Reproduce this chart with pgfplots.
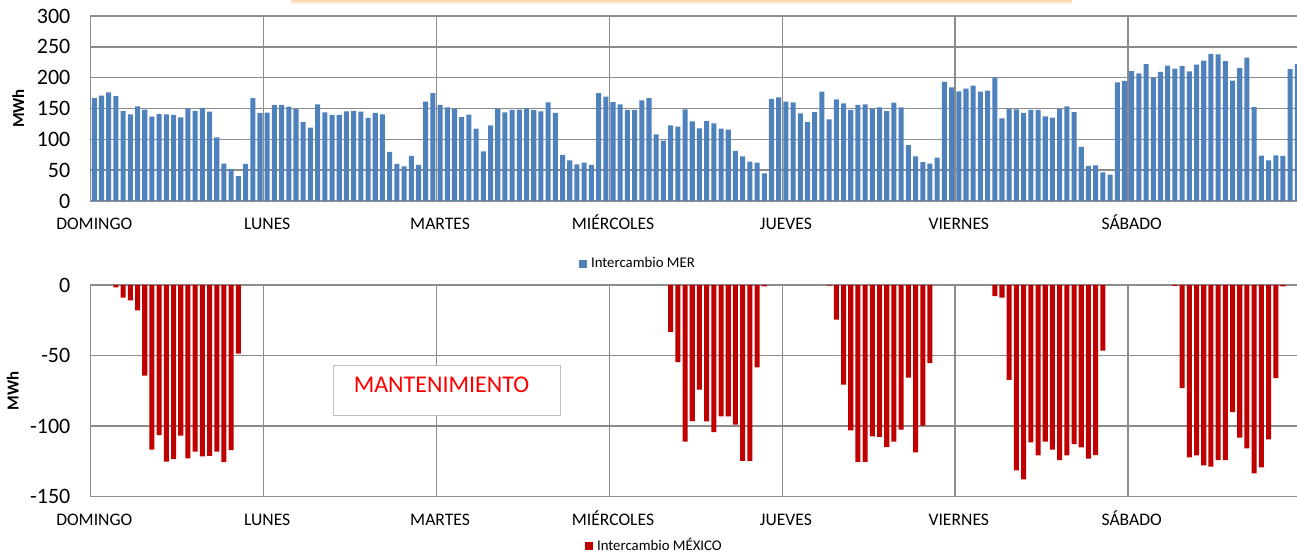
\documentclass[border=0pt]{standalone}
\usepackage{pgfplots}
\pgfplotsset{compat=1.18}
\usepackage{pgfplotstable}
\usepackage{fontspec}
\setmainfont{Carlito}
\definecolor{mer}{HTML}{4F81BD}
\definecolor{mex}{HTML}{C00000}
\definecolor{gridc}{HTML}{8C8C8C}
\definecolor{boxc}{HTML}{BFBFBF}
\definecolor{orline}{HTML}{F9DDB0}
\definecolor{orshadow}{HTML}{FDF1DE}

% Intercambio MER, one value per hour (7 days x 24 h)
\pgfplotstableread{
v
167
171
176
170
146
140.5
153.5
148
137
141
140.5
139.5
135.7
150
146
151
145
103
60.5
52
40.5
60
167
142.7
143.2
156
155.7
153
149
128
119
156.7
143.8
139.5
139.5
145.4
146
145
134.6
142.7
140.5
79.5
60
56.2
73
58.4
161
175
155.7
151.9
149.7
136.2
140
117.3
80.5
122.7
149.7
143.8
147.6
148.1
150.3
147.6
145.4
160
142.7
74.6
65.9
59.5
62.2
58.4
175.1
169.2
160.5
156.7
147.6
147.6
163.2
167
108.1
97.8
122.7
120.5
148.6
129.2
117.8
129.7
125.9
117.3
115.7
81.1
72.4
63.8
62.2
44.9
165.4
168.1
161.1
160
142.2
128.1
144.3
177.3
132.4
164.9
158.4
147.6
155.7
156.7
149.7
151.9
145.9
159.5
151.9
90.8
72.4
63.2
60.5
70.3
193
184.3
177.8
182.1
187
177.3
178.9
200.5
134
149.7
148.6
142.7
147.6
147.6
137.3
135.1
149.2
153.5
144.3
87.6
56.8
57.8
46.5
42.7
192.4
194.6
210.8
207
222.1
200
209.2
219.4
214.6
218.9
210.3
221.1
227.6
238.4
237.8
227
195.1
215.7
232.4
152.4
73.5
65.9
74
73
214
222.1
}\merdata

\begin{document}
\begin{tikzpicture}
\useasboundingbox (0,0) rectangle (648.5pt,278.5pt);
\pgfplotsset{
  base/.style={
    scale only axis, width=605.14pt, xmin=0, xmax=168,
    xtick={0,24,...,168},
    xticklabels={DOMINGO,LUNES,MARTES,MIÉRCOLES,JUEVES,VIERNES,SÁBADO,{}},
    xticklabel style={anchor=base, yshift=-14.5pt, xshift=1.8pt, font=\fontsize{8.8}{10}\selectfont},
    yticklabel style={anchor=east, inner sep=0pt, xshift=-10pt, font=\fontsize{11}{13}\selectfont},
    major tick length=0pt,
    grid=major, grid style={gridc, line width=0.7pt},
    axis line style={gridc, line width=0.7pt},
    ybar, bar width=0.7, bar shift=0pt,
    legend style={draw=none, fill=none, font=\fontsize{7.4}{9}\selectfont, inner sep=0pt},
  }
}
% top orange box edge
\fill[orshadow] (145.5pt,278.5pt) rectangle (536pt,276.5pt);
\fill[orline] (145.5pt,278.5pt) rectangle (536pt,277.6pt);

\begin{axis}[base, at={(45.35pt,178pt)}, anchor=south west, height=92.5pt,
  ymin=0, ymax=300, ytick={0,50,100,150,200,250,300},
  yticklabels={0,50,100,150,200,250,300},
  ylabel={MWh},
  every axis y label/.style={at={([xshift=-36.2pt]rel axis cs:0,0.5)}, rotate=90, anchor=center, font=\bfseries\fontsize{8.4}{10}\selectfont},
  legend style={at={(0.453,-0.342)}, anchor=center}]
\addplot[fill=mer, draw=none,
  legend image code/.code={\fill[mer] (0pt,-2pt) rectangle (4pt,2pt);}]
  table[x expr=\coordindex+0.5, y=v] {\merdata};
\addlegendentry{Intercambio MER}
\end{axis}

\begin{axis}[base, at={(45.35pt,30.15pt)}, anchor=south west, height=105.85pt,
  ymin=-150, ymax=0, ytick={-150,-100,-50,0},
  yticklabels={-150,-100,-50,0},
  ylabel={MWh},
  every axis y label/.style={at={([xshift=-38.95pt]rel axis cs:0,0.5)}, rotate=90, anchor=center, font=\bfseries\fontsize{8.4}{10}\selectfont},
  legend style={at={(0.4666,-0.2315)}, anchor=center}]
\addplot[fill=mex, draw=none,
  legend image code/.code={\fill[mex] (0pt,-2pt) rectangle (4pt,2pt);}]
  coordinates {
  (3.5,-1.7)(4.5,-9)(5.5,-10.9)(6.5,-18)(7.5,-64.2)(8.5,-116.7)(9.5,-106.3)(10.5,-125.2)(11.5,-123.3)(12.5,-106.8)(13.5,-122.8)(14.5,-118)(15.5,-121.5)(16.5,-121)(17.5,-118)(18.5,-125.5)(19.5,-117)(20.5,-48.7)
  (80.5,-33.3)(81.5,-54.6)(82.5,-111)(83.5,-96.4)(84.5,-74.2)(85.5,-96.6)(86.5,-104.2)(87.5,-93.1)(88.5,-93.1)(89.5,-99)(90.5,-124.7)(91.5,-124.7)(92.5,-58.3)(93.5,-0.9)
  (102.5,-0.5)(103.5,-24.6)(104.5,-70.6)(105.5,-103)(106.5,-125.4)(107.5,-125.4)(108.5,-107.2)(109.5,-107.7)(110.5,-114.8)(111.5,-111)(112.5,-102.5)(113.5,-65.7)(114.5,-118.6)(115.5,-99.7)(116.5,-55.3)
  (125.5,-7.8)(126.5,-9)(127.5,-67.3)(128.5,-131.3)(129.5,-137.7)(130.5,-111.5)(131.5,-120.7)(132.5,-111)(133.5,-116.7)(134.5,-124)(135.5,-120.7)(136.5,-112.7)(137.5,-115)(138.5,-123.1)(139.5,-120.5)(140.5,-46.5)
  (150.5,-0.7)(151.5,-73)(152.5,-122.1)(153.5,-120.7)(154.5,-127.8)(155.5,-128.7)(156.5,-124)(157.5,-124)(158.5,-90)(159.5,-108.2)(160.5,-115.7)(161.5,-133.5)(162.5,-129.2)(163.5,-109.4)(164.5,-65.9)(165.5,-0.9)
  };
\addlegendentry{Intercambio MÉXICO}
\draw[boxc, line width=0.5pt, fill=white] (axis cs:33.68,-57.39) rectangle (axis cs:65.24,-92.32);
\node[text=red, font=\fontsize{12}{14}\selectfont, inner sep=0pt] at (axis cs:48.7,-70.84) {MANTENIMIENTO};
\end{axis}
\end{tikzpicture}
\end{document}
